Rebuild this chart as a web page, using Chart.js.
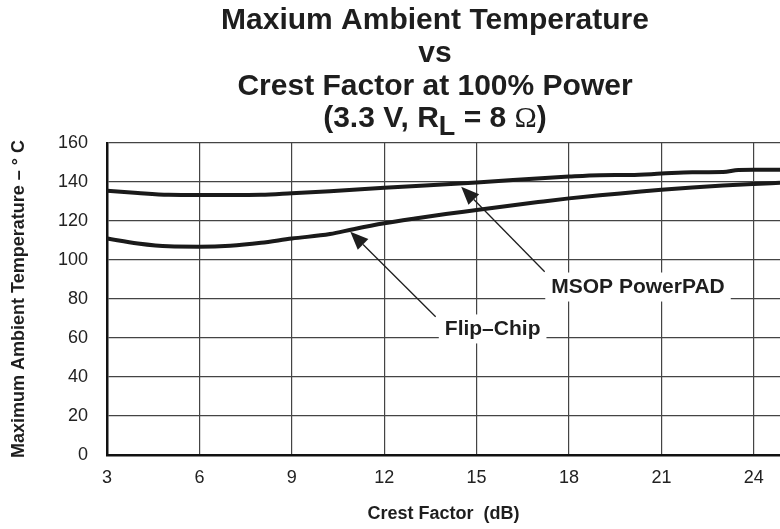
<!DOCTYPE html>
<html>
<head>
<meta charset="utf-8">
<script src="https://cdn.jsdelivr.net/npm/chart.js@4.4.1/dist/chart.umd.min.js"></script>
<style>
  html, body { margin: 0; padding: 0; background: #fff; }
  #wrap { width: 780px; height: 529px; position: relative; }
</style>
</head>
<body>
<div id="wrap"><canvas id="chart"></canvas></div>
<script>
"use strict";

// values
var titleLines = ['Maxium Ambient Temperature', 'vs', 'Crest Factor at 100% Power'];
var xTicks = [3, 6, 9, 12, 15, 18, 21, 24];
var yTicks = [0, 20, 40, 60, 80, 100, 120, 140, 160];

var msopX = [3, 4, 5, 6, 7, 8, 9, 10.24, 12, 15, 18, 19, 20, 21, 22, 23, 23.5, 24, 24.85];
var msopY = [135.5, 134.3, 133.4, 133.3, 133.3, 133.4, 134.2, 135.3, 137, 139.8, 142.8, 143.5, 143.6, 144.3, 145, 145.1, 146.2, 146.3, 146.3];

var flipX = [3, 4, 5, 6, 7, 8, 9, 10.24, 11, 12, 13, 14, 15, 16, 17, 18, 19, 20, 21, 22, 23, 24, 24.85];
var flipY = [111, 108.5, 107, 106.8, 107.3, 108.8, 111, 113.3, 115.8, 118.8, 121.3, 123.6, 125.6, 127.7, 129.7, 131.6, 133.2, 134.6, 136, 137.2, 138.2, 139, 139.6];

// callouts: label position and arrow tail -> tip, in data units
var callouts = [
  { text: 'MSOP PowerPAD', at: [20.24, 86.4], tail: [17.21, 94.0], tip: [14.5, 137.6] },
  { text: 'Flip\u2013Chip', at: [15.52, 64.9], tail: [13.67, 70.9], tip: [10.9, 114.5] }
];

function toPoints(xs, ys) {
  var pts = [];
  for (var i = 0; i < xs.length; i++) pts.push({ x: xs[i], y: ys[i] });
  return pts;
}

var SANS = '"Liberation Sans", Arial, Helvetica, sans-serif';

var titlePlugin = {
  id: 'bigTitle',
  afterDraw: function(chart) {
    var ctx = chart.ctx;
    var cx = 435;
    ctx.save();
    ctx.fillStyle = '#1e1e1e';
    ctx.textBaseline = 'alphabetic';
    ctx.textAlign = 'center';
    ctx.font = 'bold 30px ' + SANS;
    var base = [28.5, 61.5, 94.5];
    for (var i = 0; i < titleLines.length; i++) {
      ctx.fillText(titleLines[i], cx, base[i]);
    }
    // fourth line with subscript and omega
    var parts = [
      { t: '(3.3 V, R', f: 'bold 30px ' + SANS, dy: 0 },
      { t: 'L', f: 'bold 27px ' + SANS, dy: 8 },
      { t: ' = 8 ', f: 'bold 30px ' + SANS, dy: 0 },
      { t: '\u03A9', f: '30px "Liberation Serif", "Times New Roman", serif', dy: 0 },
      { t: ')', f: 'bold 30px ' + SANS, dy: 0 }
    ];
    var total = 0;
    parts.forEach(function(p) { ctx.font = p.f; p.w = ctx.measureText(p.t).width; total += p.w; });
    var x = cx - total / 2;
    ctx.textAlign = 'left';
    parts.forEach(function(p) {
      ctx.font = p.f;
      ctx.fillText(p.t, x, 127 + p.dy);
      x += p.w;
    });
    ctx.restore();
  }
};

var calloutPlugin = {
  id: 'callouts',
  afterDatasetsDraw: function(chart) {
    var ctx = chart.ctx;
    var xs = chart.scales.x, ys = chart.scales.y;
    ctx.save();
    callouts.forEach(function(c) {
      var tx = xs.getPixelForValue(c.tail[0]), ty = ys.getPixelForValue(c.tail[1]);
      var px = xs.getPixelForValue(c.tip[0]), py = ys.getPixelForValue(c.tip[1]);
      var ang = Math.atan2(py - ty, px - tx);
      var headLen = 18, headW = 7.5;
      var bx = px - headLen * Math.cos(ang), by = py - headLen * Math.sin(ang);
      ctx.strokeStyle = '#1e1e1e';
      ctx.lineWidth = 1.3;
      ctx.beginPath();
      ctx.moveTo(tx, ty);
      ctx.lineTo(bx, by);
      ctx.stroke();
      ctx.fillStyle = '#1e1e1e';
      ctx.beginPath();
      ctx.moveTo(px, py);
      ctx.lineTo(bx + headW * Math.sin(ang), by - headW * Math.cos(ang));
      ctx.lineTo(bx - headW * Math.sin(ang), by + headW * Math.cos(ang));
      ctx.closePath();
      ctx.fill();

      // label with white box that cuts the grid
      ctx.font = 'bold 21px ' + SANS;
      var w = ctx.measureText(c.text).width;
      var lx = xs.getPixelForValue(c.at[0]), ly = ys.getPixelForValue(c.at[1]);
      ctx.fillStyle = '#ffffff';
      ctx.fillRect(lx - w / 2 - 6, ly - 14, w + 12, 29);
      ctx.fillStyle = '#1e1e1e';
      ctx.textAlign = 'center';
      ctx.textBaseline = 'middle';
      ctx.fillText(c.text, lx, ly + 1);
    });
    ctx.restore();
  }
};

var ctx = document.getElementById('chart').getContext('2d');
var chart = new Chart(ctx, {
  type: 'line',
  data: {
    datasets: [{
      label: 'MSOP PowerPAD',
      data: toPoints(msopX, msopY),
      borderColor: '#1a1a1a',
      borderWidth: 4,
      pointRadius: 0,
      cubicInterpolationMode: 'monotone',
      fill: false
    }, {
      label: 'Flip-Chip',
      data: toPoints(flipX, flipY),
      borderColor: '#1a1a1a',
      borderWidth: 4,
      pointRadius: 0,
      cubicInterpolationMode: 'monotone',
      fill: false
    }]
  },
  options: {
    responsive: true,
    maintainAspectRatio: false,
    animation: false,
    layout: { padding: { top: 143, right: 0, bottom: 0, left: 0 } },
    plugins: {
      legend: { display: false },
      tooltip: { enabled: false },
      title: { display: false }
    },
    scales: {
      x: {
        type: 'linear',
        min: 3,
        max: 24.85,
        afterFit: function(scale) { scale.height = 74; },
        afterBuildTicks: function(scale) {
          scale.ticks = xTicks.map(function(v) { return { value: v }; });
        },
        ticks: {
          padding: 12,
          color: '#222',
          font: { family: SANS, size: 18 },
          maxRotation: 0
        },
        grid: {
          color: '#444',
          lineWidth: 1.2,
          drawTicks: false
        },
        border: { color: '#111', width: 2.5 },
        title: {
          display: true,
          text: 'Crest Factor  (dB)',
          color: '#1e1e1e',
          font: { family: SANS, size: 18, weight: 'bold' },
          padding: { top: 0, bottom: 4 }
        }
      },
      y: {
        min: 0,
        max: 160,
        afterFit: function(scale) { scale.width = 107; },
        afterBuildTicks: function(scale) {
          scale.ticks = yTicks.map(function(v) { return { value: v }; });
        },
        ticks: {
          padding: 19,
          color: '#222',
          font: { family: SANS, size: 18 }
        },
        grid: {
          color: '#444',
          lineWidth: 1.2,
          drawTicks: false
        },
        border: { color: '#111', width: 2.5 },
        title: {
          display: true,
          text: 'Maximum Ambient Temperature \u2013 \u00B0 C',
          color: '#1e1e1e',
          font: { family: SANS, size: 18, weight: 'bold' },
          padding: { top: 8, bottom: 0 }
        }
      }
    }
  },
  plugins: [titlePlugin, calloutPlugin]
});
</script>
</body>
</html>
